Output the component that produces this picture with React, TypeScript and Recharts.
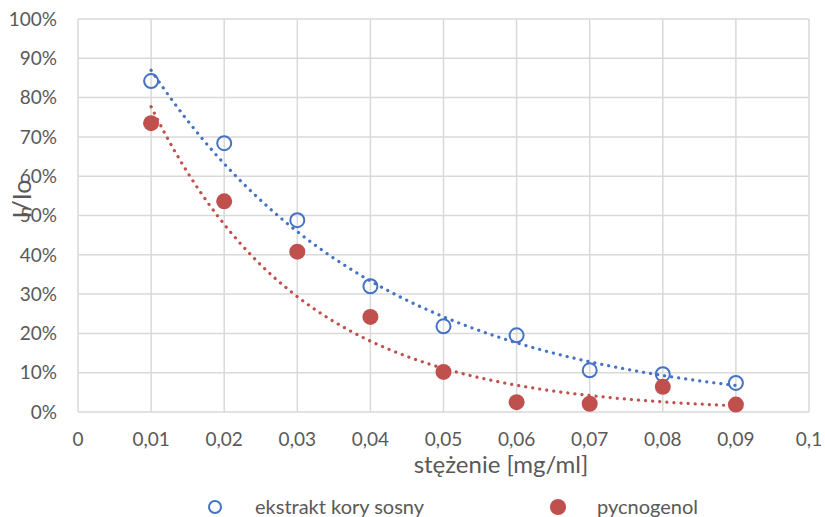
import {
  CartesianGrid,
  ComposedChart,
  Line,
  Scatter,
  XAxis,
  YAxis,
} from "recharts";

// stężenie [mg/ml]
const concentrations = [0.01, 0.02, 0.03, 0.04, 0.05, 0.06, 0.07, 0.08, 0.09];
// I/Io in %
const barkExtract = [84.2, 68.4, 48.8, 32.0, 21.8, 19.5, 10.6, 9.6, 7.4];
const pycnogenol = [73.5, 53.6, 40.8, 24.2, 10.2, 2.5, 2.1, 6.4, 1.9];

const xTicks = [0, 0.01, 0.02, 0.03, 0.04, 0.05, 0.06, 0.07, 0.08, 0.09, 0.1];
const yTicks = [0, 10, 20, 30, 40, 50, 60, 70, 80, 90, 100];

const BLUE = "#4472c4";
const RED = "#c0504d";
const TEXT = "#595959";
const FONT = "Lato, 'Open Sans', sans-serif";

const toPoints = (ys: number[]) =>
  concentrations.map((x, i) => ({ x, y: ys[i] }));

// exponential trendline (least squares on ln y), like Excel's "Wykładnicza"
function expTrend(ys: number[]) {
  const n = concentrations.length;
  const lx = concentrations;
  const ly = ys.map((v) => Math.log(v));
  const mx = lx.reduce((s, v) => s + v, 0) / n;
  const my = ly.reduce((s, v) => s + v, 0) / n;
  let sxy = 0;
  let sxx = 0;
  for (let i = 0; i < n; i++) {
    sxy += (lx[i] - mx) * (ly[i] - my);
    sxx += (lx[i] - mx) * (lx[i] - mx);
  }
  const b = sxy / sxx;
  const a = Math.exp(my - b * mx);
  const first = lx[0];
  const last = lx[n - 1];
  const steps = 80;
  return Array.from({ length: steps + 1 }, (_, i) => {
    const x = first + ((last - first) * i) / steps;
    return { x, y: a * Math.exp(b * x) };
  });
}

const barkPoints = toPoints(barkExtract);
const pycnoPoints = toPoints(pycnogenol);
const barkTrend = expTrend(barkExtract);
const pycnoTrend = expTrend(pycnogenol);

const OpenCircle = (props: any) => (
  <circle cx={props.cx} cy={props.cy} r={7} fill="none" stroke={BLUE} strokeWidth={2} />
);
const FilledCircle = (props: any) => (
  <circle cx={props.cx} cy={props.cy} r={8} fill={RED} />
);

export default function App() {
  return (
    <div
      style={{
        position: "absolute",
        left: 0,
        top: 0,
        width: 825,
        height: 517,
        background: "#fff",
        overflow: "hidden",
        fontFamily: FONT,
      }}
    >
      <ComposedChart
        width={825}
        height={517}
        margin={{ top: 19, right: 16, left: 0, bottom: 0 }}
      >
        <CartesianGrid stroke="#d9d9d9" strokeWidth={1.5} />
        <XAxis
          type="number"
          dataKey="x"
          domain={[0, 0.1]}
          ticks={xTicks}
          height={105}
          axisLine={false}
          tickLine={false}
          tickSize={0}
          tickMargin={21}
          tick={{ fontSize: 19, fill: TEXT, fontFamily: FONT }}
          tickFormatter={(v: number) => String(v).replace(".", ",")}
        />
        <YAxis
          type="number"
          dataKey="y"
          domain={[0, 100]}
          ticks={yTicks}
          width={78}
          axisLine={false}
          tickLine={false}
          tickSize={0}
          tickMargin={21}
          tick={{ fontSize: 19, fill: TEXT, fontFamily: FONT }}
          tickFormatter={(v: number) => `${v}%`}
        />
        <Scatter
          name="ekstrakt kory sosny"
          data={barkPoints}
          shape={OpenCircle}
          isAnimationActive={false}
        />
        <Scatter
          name="pycnogenol"
          data={pycnoPoints}
          shape={FilledCircle}
          isAnimationActive={false}
        />
        <Line
          data={barkTrend}
          dataKey="y"
          type="linear"
          stroke={BLUE}
          strokeWidth={3.2}
          strokeDasharray="0.1 7"
          strokeLinecap="round"
          dot={false}
          activeDot={false}
          isAnimationActive={false}
        />
        <Line
          data={pycnoTrend}
          dataKey="y"
          type="linear"
          stroke={RED}
          strokeWidth={3.2}
          strokeDasharray="0.1 7"
          strokeLinecap="round"
          dot={false}
          activeDot={false}
          isAnimationActive={false}
        />
      </ComposedChart>

      {/* axis titles */}
      <div
        style={{
          position: "absolute",
          left: 21,
          top: 199,
          transform: "translate(-50%, -50%) rotate(-90deg)",
          fontSize: 25,
          color: TEXT,
          whiteSpace: "nowrap",
          lineHeight: 1,
        }}
      >
        I/Io
      </div>
      <div
        style={{
          position: "absolute",
          left: 501,
          top: 449,
          transform: "translateX(-50%)",
          fontSize: 24,
          color: TEXT,
          whiteSpace: "nowrap",
        }}
      >
        stężenie [mg/ml]
      </div>

      {/* legend */}
      <svg
        width={825}
        height={30}
        style={{ position: "absolute", left: 0, top: 492 }}
      >
        <circle cx={215} cy={15} r={6} fill="none" stroke={BLUE} strokeWidth={2} />
        <text x={255} y={22} fontSize={20} fill={TEXT} fontFamily={FONT}>
          ekstrakt kory sosny
        </text>
        <circle cx={558} cy={15} r={8} fill={RED} />
        <text x={597} y={22} fontSize={20} fill={TEXT} fontFamily={FONT}>
          pycnogenol
        </text>
      </svg>
    </div>
  );
}
